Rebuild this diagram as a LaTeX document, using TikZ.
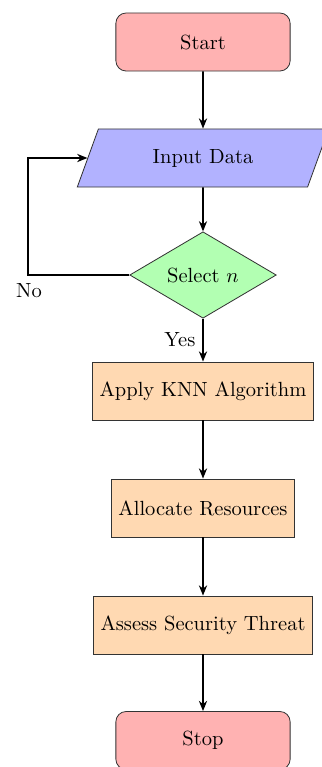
\documentclass[tikz,border=0pt]{standalone}
\usetikzlibrary{shapes.geometric,arrows.meta}
\begin{document}
\begin{tikzpicture}[x=0.4878pt,y=-0.4878pt,
  startstop/.style={rectangle, rounded corners=5pt, minimum width=85pt, minimum height=28.3pt, draw=black!80, fill=red!30, text centered},
  io/.style={trapezium, trapezium left angle=70, trapezium right angle=110, trapezium stretches=true, minimum width=123pt, minimum height=28.3pt, draw=black!80, fill=blue!30, text centered},
  process/.style={rectangle, minimum width=85pt, minimum height=28.3pt, draw=black!80, fill=orange!30, text centered},
  decision/.style={diamond, minimum width=71.5pt, minimum height=42pt, inner sep=0pt, draw=black!80, fill=green!30, text centered},
  arrow/.style={thick, -{Stealth[length=5pt,width=4pt]}},
  line/.style={thick}]
\useasboundingbox (0,0) rectangle (322,767);
\node[startstop] (start) at (203,42) {Start};
\node[io] (input) at (203,158) {Input Data};
\node[decision] (dec) at (203,275) {Select $n$};
\node[process] (knn) at (203,391) {Apply KNN Algorithm};
\node[process] (alloc) at (203,508) {Allocate Resources};
\node[process] (assess) at (203,625) {Assess Security Threat};
\node[startstop] (stop) at (203,740.5) {Stop};
\coordinate (c) at (28,275);
\node (no) at (29,291) {No};
\draw[arrow] (start) -- (input);
\draw[arrow] (input) -- (dec);
\draw[arrow] (dec) -- node[left] (yes) {Yes} (knn);
\draw[arrow] (knn) -- (alloc);
\draw[arrow] (alloc) -- (assess);
\draw[arrow] (assess) -- (stop);
\draw[arrow] (dec.west) -- (c) |- (input.west);
\end{tikzpicture}
\end{document}
